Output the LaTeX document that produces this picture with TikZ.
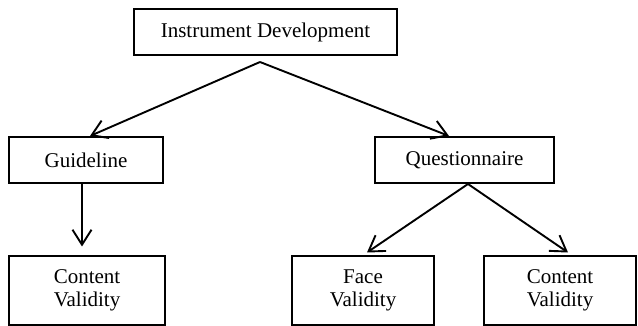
\documentclass[tikz,border=0pt]{standalone}
\usepackage{fontspec}
\setmainfont{Liberation Serif}
\usetikzlibrary{arrows.meta}
\begin{document}
\begin{tikzpicture}[x=1pt,y=-1pt,
  box/.style={draw, line width=2pt, rectangle, inner sep=0pt, align=center,
    font=\fontsize{21}{23.5}\selectfont},
  conn/.style={line width=1.9pt, -{Straight Barb[length=15pt,width=19pt,line width=1.9pt]}}]
\useasboundingbox (0,0) rectangle (638,326);
\node[box, minimum width=263pt, minimum height=46pt] (top) at (265.5,32) {Instrument Development};
\node[box, minimum width=154pt, minimum height=46pt] (guide) at (86,160) {Guideline};
\node[box, minimum width=179pt, minimum height=46pt] (quest) at (464.5,160) {Questionnaire};
\node[box, minimum width=156pt, minimum height=68pt] (cl) at (87,290.5) {Content\\Validity};
\node[box, minimum width=142pt, minimum height=68pt] (face) at (363,290.5) {Face\\Validity};
\node[box, minimum width=152pt, minimum height=68pt] (cr) at (560,290.5) {Content\\Validity};
\coordinate (apex) at (260,62);
\draw[conn] (apex) -- ([xshift=4pt]guide.north);
\draw[conn] (apex) -- ([xshift=-15.5pt]quest.north);
\draw[conn] ([xshift=-4pt]guide.south) -- ([xshift=-5pt,yshift=9pt]cl.north);
\draw[conn] ([xshift=3.5pt]quest.south) -- ([xshift=4pt,yshift=3pt]face.north);
\draw[conn] ([xshift=3.5pt]quest.south) -- ([xshift=8pt,yshift=3pt]cr.north);
\end{tikzpicture}
\end{document}
